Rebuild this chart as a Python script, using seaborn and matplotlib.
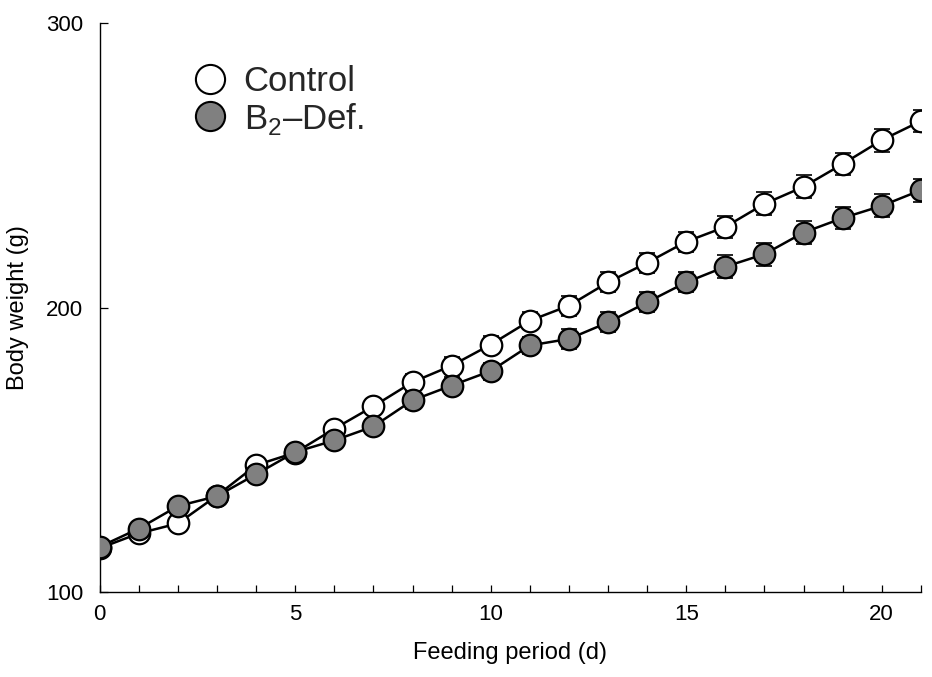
import numpy as np
import pandas as pd
import matplotlib
matplotlib.use("Agg")
import matplotlib.pyplot as plt
import seaborn as sns
from matplotlib.lines import Line2D

# ---- data ----
days = list(range(22))
control = [115.4, 120.6, 124.1, 133.9, 144.6, 149.0, 157.4, 165.3, 173.8, 179.6,
           187.0, 195.4, 200.7, 208.9, 215.8, 223.2, 228.4, 236.5, 242.5, 250.5,
           258.9, 265.6]
b2def = [115.9, 122.3, 130.2, 133.7, 141.4, 149.2, 153.3, 158.2, 167.4, 172.6,
         177.7, 186.7, 189.0, 194.8, 201.9, 208.9, 214.4, 218.8, 226.4, 231.5,
         235.8, 241.3]
control_err = [1.0, 1.5, 1.5, 2.0, 2.0, 2.0, 2.5, 2.5, 3.0, 3.0, 3.0, 3.0, 3.5,
               3.5, 3.5, 3.5, 4.0, 4.0, 4.0, 4.0, 4.0, 4.0]
b2def_err = [1.0, 1.5, 1.5, 2.0, 2.0, 2.0, 2.5, 2.5, 3.0, 3.0, 3.0, 3.0, 3.5,
             3.5, 3.5, 3.5, 4.0, 4.0, 4.0, 4.0, 4.0, 4.0]
series_names = ["Control", "B$_2$\u2013Def."]
xtick_vals = [0, 5, 10, 15, 20]
ytick_vals = [100, 200, 300]

df = pd.DataFrame({
    "day": days * 2,
    "weight": control + b2def,
    "err": control_err + b2def_err,
    "group": [series_names[0]] * len(days) + [series_names[1]] * len(days),
})

sns.set_theme(style="white")
plt.rcParams["font.family"] = ["Liberation Sans", "DejaVu Sans"]
plt.rcParams["mathtext.fontset"] = "custom"
plt.rcParams["mathtext.rm"] = "Liberation Sans"

fig = plt.figure(figsize=(9.32, 6.77), dpi=100)
ax = fig.add_axes([0.107, 0.1256, 0.881, 0.840])

styles = {
    series_names[0]: dict(face="white", z=3),
    series_names[1]: dict(face="#808080", z=4),
}

for name in series_names:
    sub = df[df["group"] == name]
    st = styles[name]
    ax.errorbar(sub["day"], sub["weight"], yerr=sub["err"], fmt="none",
                ecolor="black", elinewidth=1.0, capsize=6, capthick=1.2,
                zorder=st["z"])
    sns.lineplot(data=sub, x="day", y="weight", ax=ax, color="black",
                 linewidth=1.8, zorder=st["z"], legend=False, errorbar=None)
    sns.scatterplot(data=sub, x="day", y="weight", ax=ax, s=240,
                    color=st["face"], edgecolor="black", linewidth=1.6,
                    zorder=st["z"] + 0.5, legend=False)

ax.set_xlim(0, 21)
ax.set_ylim(100, 300)

# ticks
ax.set_xticks(xtick_vals)
ax.set_xticks(days, minor=True)
ax.tick_params(axis="x", which="major", direction="in", length=5, width=0.9,
               bottom=True, pad=9, labelsize=16, colors="black")
ax.tick_params(axis="x", which="minor", direction="in", length=5, width=0.9,
               bottom=True, color="black")
ax.set_yticks(ytick_vals)
ax.tick_params(axis="y", which="major", direction="in", length=6, width=0.9,
               left=True, pad=12, labelsize=16, colors="black")

for s in ["top", "right"]:
    ax.spines[s].set_visible(False)
for s in ["left", "bottom"]:
    ax.spines[s].set_color("black")
    ax.spines[s].set_linewidth(1.0)

ax.set_xlabel("Feeding period (d)", fontsize=17, labelpad=12, color="black")
ax.set_ylabel("Body weight (g)", fontsize=17, labelpad=12, color="black")

# legend
handles = [
    Line2D([], [], marker="o", linestyle="none", markersize=21,
           markerfacecolor=styles[n]["face"], markeredgecolor="black",
           markeredgewidth=1.5)
    for n in series_names
]
leg = fig.legend(handles, series_names, loc="center left",
                 bbox_to_anchor=(195 / 932, 1 - 101 / 677), frameon=False,
                 fontsize=25, handlelength=0.85, handletextpad=0.55,
                 labelspacing=0.06, borderpad=0, borderaxespad=0)

fig.savefig("out.png", dpi=100, facecolor="white")
